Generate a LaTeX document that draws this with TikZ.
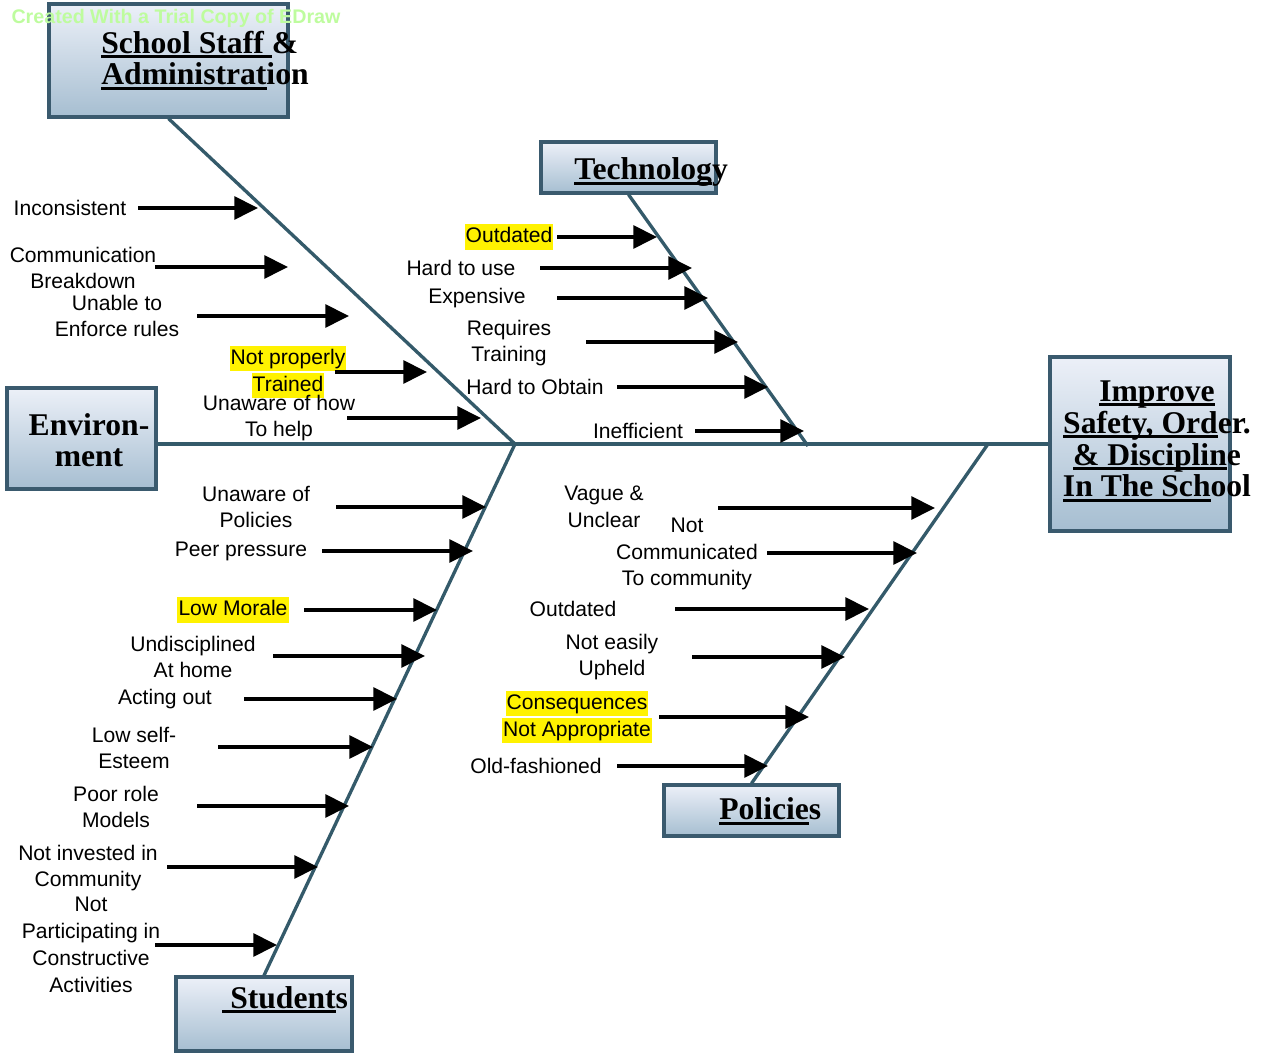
\documentclass[tikz,border=0pt]{standalone}
\usepackage{fontspec}
\usepackage{xcolor}
\setmainfont{Liberation Serif}
\setsansfont{Liberation Sans}
\usetikzlibrary{arrows.meta,positioning}
\definecolor{boxborder}{RGB}{58,90,110}
\definecolor{boxtop}{RGB}{236,240,248}
\definecolor{boxbottom}{RGB}{166,190,209}
\definecolor{bonecolor}{RGB}{52,90,106}
\definecolor{trialgreen}{RGB}{190,252,158}
\newcommand\tul[1]{\setbox0=\hbox{#1}\rlap{\rule[-3pt]{\wd0}{1.8pt}}\box0}
\newcommand\yhl[1]{{\fboxsep=0.6pt\colorbox{yellow}{\rule[-3.3pt]{0pt}{13.2pt}#1}}}

\begin{document}
\begin{tikzpicture}[
    x=0.02cm, y=-0.02cm,
    box/.style={rectangle, draw=boxborder, line width=1.8pt, top color=boxtop, bottom color=boxbottom, inner sep=0pt},
    title/.style={font=\bfseries\fontsize{18}{18.2}\selectfont, inner sep=0pt},
    cause/.style={font=\sffamily\fontsize{12}{15.3}\selectfont, align=center, inner sep=0pt},
    bone/.style={draw=bonecolor, line width=1.9pt},
    arrow/.style={-{Triangle[length=13.5pt,width=13pt]}, line width=2pt, black},
]
\useasboundingbox (0,0) rectangle (1265,1053);

% Bones
\coordinate (jointL) at (515,444);
\coordinate (techend) at (808,446);
\coordinate (polstart) at (988,444);

% Category boxes
\node[box, minimum width=4.78cm, minimum height=2.26cm] (staffbox) at (168.5,60.5) {};
\node[box, minimum width=3.5cm, minimum height=1.02cm] (techbox) at (628.5,167.5) {};
\node[box, minimum width=2.98cm, minimum height=2.02cm] (envbox) at (81.5,438.5) {};
\node[box, minimum width=3.6cm, minimum height=3.48cm] (effectbox) at (1140,444) {};
\node[box, minimum width=3.52cm, minimum height=1.48cm] (studbox) at (264,1014) {};
\node[box, minimum width=3.5cm, minimum height=1.02cm] (polbox) at (751.5,810.5) {};

\draw[bone] (envbox.east |- effectbox.west) -- (effectbox.west);
\draw[bone] (staffbox.south) -- (jointL);
\draw[bone] (jointL) -- (studbox.north);
\draw[bone] (techbox.south) -- (techend);
\draw[bone] (polstart) -- (polbox.north);

% Box titles (base = last line)
\node[title, align=left, anchor=base west] (staff) at (101,85) {\tul{School Staff }\&\\\tul{Administrat}ion};
\node[title, anchor=base west] (tech) at (574,180) {\tul{Technolog}y};
\node[title, align=center, anchor=base] (env) at (89,467) {Environ-\\ment};
\node[title, align=center, anchor=base] (effect) at (1157,497) {\tul{Improve}\\\tul{Safety, Ord}er.\\\tul{\& Disciplin}e\\\tul{In The Sch}ool};
\node[title, anchor=base west] (stud) at (222,1008) {\tul{\ Student}s};
\node[title, anchor=base west] (pol) at (719,820) {\tul{Policie}s};

% School staff causes
\node[cause] (incons) at (70,208) {Inconsistent};
\coordinate (incons_s) at (138,208); \coordinate (incons_t) at (258,208);
\node[cause] (comm) at (83,268) {Communication\\Breakdown};
\coordinate (comm_s) at (155,267); \coordinate (comm_t) at (288,267);
\node[cause] (enforce) at (117,316) {Unable to\\Enforce rules};
\coordinate (enforce_s) at (197,316); \coordinate (enforce_t) at (349,316);
\node[cause] (trained) at (288,372) {\yhl{Not properly}\\\yhl{Trained}};
\coordinate (trained_s) at (335,372); \coordinate (trained_t) at (427,372);
\node[cause] (help) at (279,418) {Unaware of how\\To help};
\coordinate (help_s) at (347,418); \coordinate (help_t) at (481,418);

% Technology causes
\node[cause] (outdated) at (509,237) {\yhl{Outdated}};
\coordinate (outdated_s) at (557,237); \coordinate (outdated_t) at (657,237);
\node[cause] (harduse) at (461,268) {Hard to use};
\coordinate (harduse_s) at (540,268); \coordinate (harduse_t) at (692,268);
\node[cause] (expensive) at (477,298) {Expensive};
\coordinate (expensive_s) at (557,298); \coordinate (expensive_t) at (708,298);
\node[cause] (training) at (509,343) {Requires\\Training};
\coordinate (training_s) at (586,342); \coordinate (training_t) at (738,342);
\node[cause] (obtain) at (535,387) {Hard to Obtain};
\coordinate (obtain_s) at (617,387); \coordinate (obtain_t) at (768,387);
\node[cause] (ineff) at (638,431) {Inefficient};
\coordinate (ineff_s) at (695,431); \coordinate (ineff_t) at (804,431);

% Student causes
\node[cause] (unpolicies) at (256,507) {Unaware of\\Policies};
\coordinate (unpolicies_s) at (336,507); \coordinate (unpolicies_t) at (486,507);
\node[cause] (peer) at (241,551) {Peer pressure};
\coordinate (peer_s) at (322,551); \coordinate (peer_t) at (473,551);
\node[cause] (morale) at (233,610) {\yhl{Low Morale}};
\coordinate (morale_s) at (304,610); \coordinate (morale_t) at (437,610);
\node[cause] (home) at (193,657) {Undisciplined\\At home};
\coordinate (home_s) at (273,656); \coordinate (home_t) at (425,656);
\node[cause] (acting) at (165,699) {Acting out};
\coordinate (acting_s) at (244,699); \coordinate (acting_t) at (397,699);
\node[cause] (esteem) at (134,748) {Low self-\\Esteem};
\coordinate (esteem_s) at (218,747); \coordinate (esteem_t) at (373,747);
\node[cause] (models) at (116,807) {Poor role\\Models};
\coordinate (models_s) at (197,806); \coordinate (models_t) at (349,806);
\node[cause] (community) at (88,868) {Not invested in\\Community};
\coordinate (community_s) at (167,867); \coordinate (community_t) at (318,867);
\node[cause] (activities) at (91,945) {Not\\Participating in\\Constructive\\Activities};
\coordinate (activities_s) at (155,945); \coordinate (activities_t) at (277,945);

% Policy causes
\node[cause] (vague) at (604,507) {Vague \&\\Unclear};
\coordinate (vague_s) at (718,508); \coordinate (vague_t) at (935,508);
\node[cause] (notcomm) at (687,554) {Not\\Communicated\\To community};
\coordinate (notcomm_s) at (767,553); \coordinate (notcomm_t) at (917,553);
\node[cause] (polold) at (573,609) {Outdated};
\coordinate (polold_s) at (675,609); \coordinate (polold_t) at (869,609);
\node[cause] (upheld) at (612,657) {Not easily\\Upheld};
\coordinate (upheld_s) at (692,657); \coordinate (upheld_t) at (845,657);
\node[cause] (conseq) at (577,717) {\yhl{Consequences}\\\yhl{Not Appropriate}};
\coordinate (conseq_s) at (659,717); \coordinate (conseq_t) at (809,717);
\node[cause] (oldfash) at (536,766) {Old-fashioned};
\coordinate (oldfash_s) at (617,766); \coordinate (oldfash_t) at (768,766);

% Arrows
\draw[arrow] (incons_s) -- (incons_t);
\draw[arrow] (comm_s) -- (comm_t);
\draw[arrow] (enforce_s) -- (enforce_t);
\draw[arrow] (trained_s) -- (trained_t);
\draw[arrow] (help_s) -- (help_t);
\draw[arrow] (outdated_s) -- (outdated_t);
\draw[arrow] (harduse_s) -- (harduse_t);
\draw[arrow] (expensive_s) -- (expensive_t);
\draw[arrow] (training_s) -- (training_t);
\draw[arrow] (obtain_s) -- (obtain_t);
\draw[arrow] (ineff_s) -- (ineff_t);
\draw[arrow] (unpolicies_s) -- (unpolicies_t);
\draw[arrow] (peer_s) -- (peer_t);
\draw[arrow] (morale_s) -- (morale_t);
\draw[arrow] (home_s) -- (home_t);
\draw[arrow] (acting_s) -- (acting_t);
\draw[arrow] (esteem_s) -- (esteem_t);
\draw[arrow] (models_s) -- (models_t);
\draw[arrow] (community_s) -- (community_t);
\draw[arrow] (activities_s) -- (activities_t);
\draw[arrow] (vague_s) -- (vague_t);
\draw[arrow] (notcomm_s) -- (notcomm_t);
\draw[arrow] (polold_s) -- (polold_t);
\draw[arrow] (upheld_s) -- (upheld_t);
\draw[arrow] (conseq_s) -- (conseq_t);
\draw[arrow] (oldfash_s) -- (oldfash_t);

% Trial watermark
\node[font=\sffamily\bfseries\fontsize{11.2}{13}\selectfont, text=trialgreen, inner sep=0pt] (trial) at (176,18) {Created With a Trial Copy of EDraw};

\end{tikzpicture}
\end{document}
